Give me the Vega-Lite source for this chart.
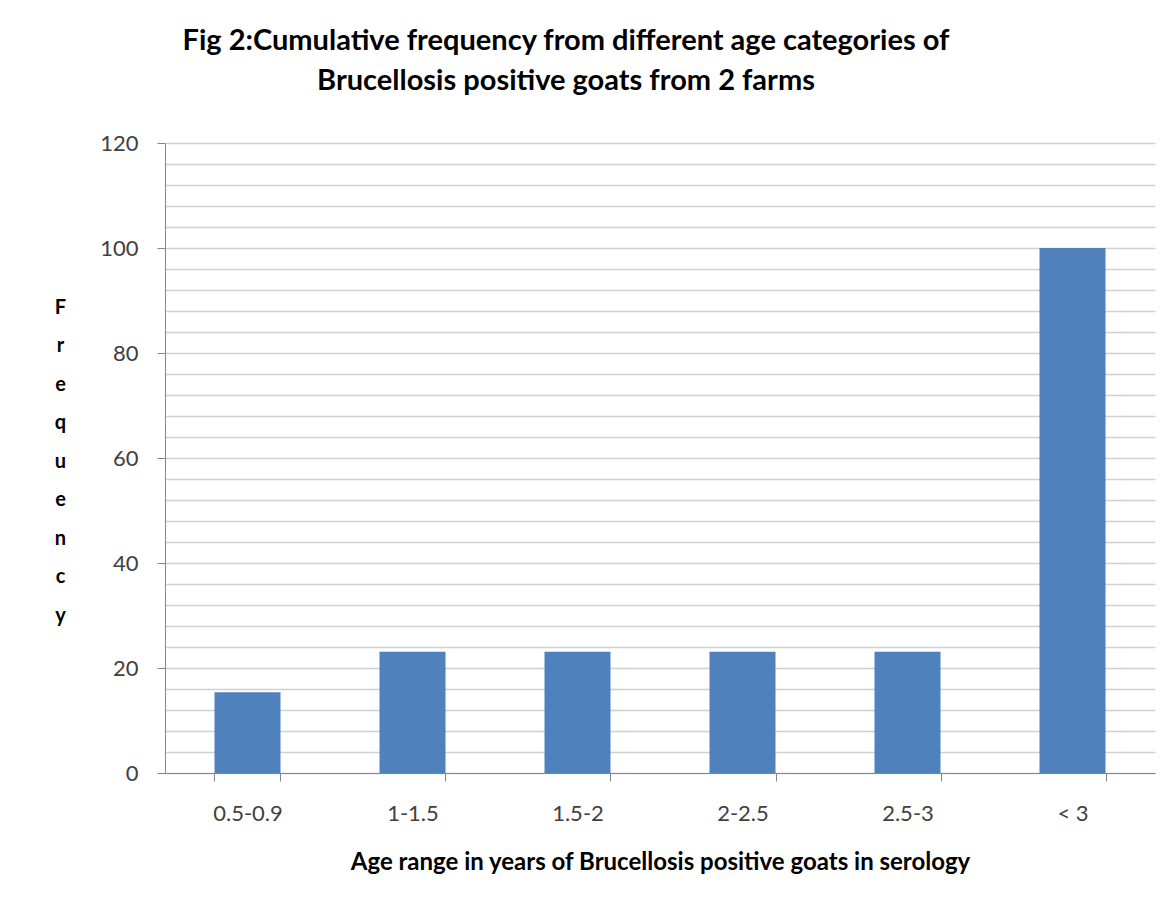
{
  "$schema": "https://vega.github.io/schema/vega-lite/v6.json",
  "autosize": "none",
  "padding": {"left": 165, "top": 143, "right": 11, "bottom": 136},
  "width": 990,
  "height": 630,
  "background": "white",
  "title": {
    "text": ["Fig 2:Cumulative frequency from different age categories of", "Brucellosis positive goats from 2 farms"],
    "font": "Lato",
    "fontSize": 29,
    "fontWeight": "bold",
    "color": "#000000",
    "anchor": "middle",
    "dx": -94,
    "lineHeight": 40,
    "offset": 36
  },
  "data": {
    "values": [
      {"age": "0.5-0.9", "frequency": 15.4},
      {"age": "1-1.5", "frequency": 23.1},
      {"age": "1.5-2", "frequency": 23.1},
      {"age": "2-2.5", "frequency": 23.1},
      {"age": "2.5-3", "frequency": 23.1},
      {"age": "< 3", "frequency": 100}
    ]
  },
  "mark": {"type": "bar", "color": "#4F81BD"},
  "encoding": {
    "x": {
      "field": "age",
      "type": "nominal",
      "sort": null,
      "scale": {"paddingInner": 0.6, "paddingOuter": 0.3},
      "axis": {
        "title": "Age range in years of Brucellosis positive goats in serology",
        "titleFont": "Lato",
        "titleFontSize": 24,
        "titleFontWeight": "bold",
        "titleColor": "#000000",
        "titlePadding": 26,
        "labelAngle": 0,
        "labelFont": "Lato",
        "labelFontSize": 22,
        "labelColor": "#404040",
        "labelPadding": 22,
        "tickBand": "extent",
        "tickSize": 8,
        "tickColor": "#868686",
        "domainColor": "#868686",
        "grid": false
      }
    },
    "y": {
      "field": "frequency",
      "type": "quantitative",
      "scale": {"domain": [0, 120]},
      "axis": {
        "title": ["F", "r", "e", "q", "u", "e", "n", "c", "y"],
        "titleAngle": 0,
        "titleX": -105,
        "titleY": 164,
        "titleAlign": "center",
        "titleBaseline": "middle",
        "titleLineHeight": 38.5,
        "titleFont": "Lato",
        "titleFontSize": 20,
        "titleFontWeight": "bold",
        "titleColor": "#000000",
        "values": [0, 4, 8, 12, 16, 20, 24, 28, 32, 36, 40, 44, 48, 52, 56, 60, 64, 68, 72, 76, 80, 84, 88, 92, 96, 100, 104, 108, 112, 116, 120],
        "labelExpr": "datum.value % 20 === 0 ? datum.label : ''",
        "labelFont": "Lato",
        "labelFontSize": 22,
        "labelColor": "#404040",
        "labelPadding": 19,
        "tickSize": 8,
        "tickColor": "#868686",
        "tickOpacity": {"expr": "datum.value % 20 === 0 ? 1 : 0"},
        "domainColor": "#868686",
        "grid": true,
        "gridColor": "#d0d0d0",
        "gridWidth": 1.5
      }
    }
  },
  "config": {
    "view": {"stroke": null}
  }
}
